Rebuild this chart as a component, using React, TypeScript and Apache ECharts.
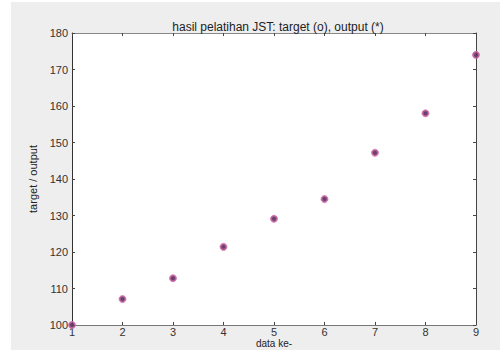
import React, { useEffect, useRef } from "react";
import * as echarts from "echarts";

const dataIndex = [1, 2, 3, 4, 5, 6, 7, 8, 9];
const target = [100, 107.1, 112.8, 121.4, 129.1, 134.5, 147.2, 158, 174];
const output = [100, 107.1, 112.8, 121.4, 129.1, 134.5, 147.2, 158, 174];
const titleText = "hasil pelatihan JST: target (o), output (*)";

export default function App() {
  const ref = useRef<HTMLDivElement>(null);
  useEffect(() => {
    if (!ref.current) return;
    const chart = echarts.init(ref.current, null, { renderer: "svg" });
    const font = "Liberation Sans, Arial, sans-serif";
    const axisLabel = { color: "#333", fontSize: 11, fontFamily: font };
    chart.setOption({
      animation: false,
      backgroundColor: "#ffffff",
      graphic: [
        {
          type: "rect",
          z: -10,
          silent: true,
          shape: { x: 11, y: 2, width: 489, height: 348 },
          style: { fill: "#eeeeee" },
        },
      ],
      title: {
        text: titleText,
        left: 273,
        top: 16,
        textAlign: "center",
        textStyle: { fontSize: 12, fontWeight: "normal", color: "#222", fontFamily: font },
      },
      grid: {
        left: 72,
        right: 24,
        top: 33,
        bottom: 25,
        outerBoundsMode: "none",
        containLabel: false,
        show: true,
        backgroundColor: "#ffffff",
        borderWidth: 0,
      },
      xAxis: [
        {
          type: "value",
          min: 1,
          max: 9,
          interval: 1,
          name: "data ke-",
          nameLocation: "middle",
          nameGap: 13,
          nameMoveOverlap: false,
          nameTextStyle: { fontSize: 10, lineHeight: 11, color: "#222", fontFamily: font },
          axisLine: { show: true, onZero: false, lineStyle: { color: "#777", width: 1 } },
          axisTick: { show: true, inside: true, length: 3, lineStyle: { color: "#444" } },
          axisLabel: { ...axisLabel, margin: 1 },
          splitLine: { show: false },
        },
        {
          type: "value",
          position: "top",
          min: 1,
          max: 9,
          interval: 1,
          axisLine: { show: true, onZero: false, lineStyle: { color: "#888", width: 1 } },
          axisTick: { show: true, inside: true, length: 3, lineStyle: { color: "#444" } },
          axisLabel: { show: false },
          splitLine: { show: false },
        },
      ],
      yAxis: [
        {
          type: "value",
          min: 100,
          max: 180,
          interval: 10,
          name: "target / output",
          nameLocation: "middle",
          nameGap: 33,
          nameTextStyle: { fontSize: 11, color: "#222", fontFamily: font },
          axisLine: { show: true, onZero: false, lineStyle: { color: "#333", width: 1 } },
          axisTick: { show: true, inside: true, length: 3, lineStyle: { color: "#444" } },
          axisLabel: { ...axisLabel, margin: 4 },
          splitLine: { show: false },
        },
        {
          type: "value",
          position: "right",
          min: 100,
          max: 180,
          interval: 10,
          axisLine: { show: true, onZero: false, lineStyle: { color: "#444", width: 1 } },
          axisTick: { show: true, inside: true, length: 3, lineStyle: { color: "#444" } },
          axisLabel: { show: false },
          splitLine: { show: false },
        },
      ],
      series: [
        {
          name: "target",
          type: "scatter",
          symbol: "circle",
          symbolSize: 7,
          data: dataIndex.map((x, i) => [x, target[i]]),
          itemStyle: { color: "#9a4080", borderColor: "#e070b0", borderWidth: 1 },
          z: 3,
        },
        {
          name: "output",
          type: "scatter",
          symbol: "circle",
          symbolSize: 4,
          data: dataIndex.map((x, i) => [x, output[i]]),
          itemStyle: { color: "#5a3560" },
          z: 4,
        },
      ],
    });
    return () => chart.dispose();
  }, []);
  return (
    <div
      ref={ref}
      style={{ position: "fixed", left: 0, top: 0, width: 500, height: 350 }}
    />
  );
}
